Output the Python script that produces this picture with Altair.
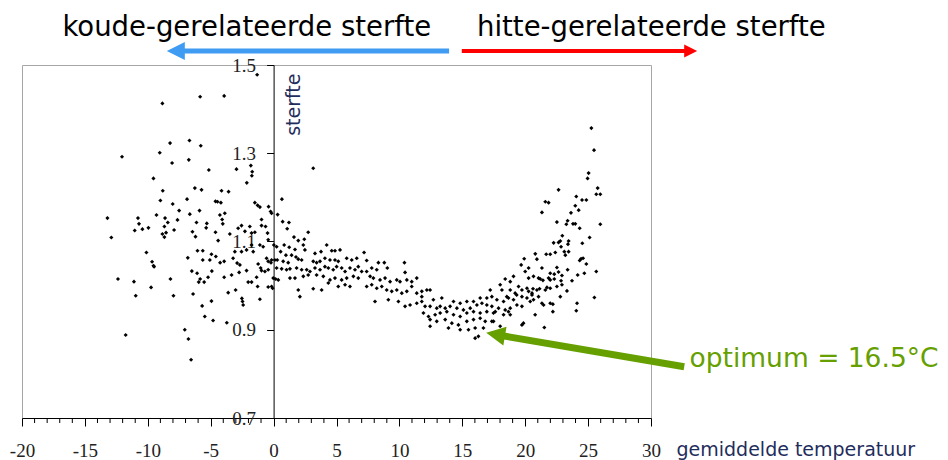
import altair as alt
import pandas as pd

# ---------------- data ----------------
# (temperature in degC, relative mortality "sterfte")
KOUD = [
    (-1.31, 1.478), (-8.84, 1.413), (-5.84, 1.428), (-3.93, 1.430), (-12.05, 1.292),
    (-8.23, 1.323), (-6.69, 1.329), (-5.79, 1.317), (-9.05, 1.301), (-8.07, 1.278),
    (-6.74, 1.285), (-5.15, 1.262), (-2.95, 1.264), (-1.81, 1.272), (-1.70, 1.258),
    (-1.73, 1.249), (-2.13, 1.233), (-9.55, 1.243), (-8.81, 1.215), (-6.26, 1.221),
    (-5.73, 1.217), (-4.14, 1.215), (-3.58, 1.213), (-9.00, 1.193), (-8.02, 1.185),
    (-6.88, 1.196), (-4.62, 1.191), (-4.46, 1.190), (-4.19, 1.188), (-1.49, 1.188),
    (-1.27, 1.182), (-1.09, 1.178), (-0.40, 1.179),
    (-13.21, 1.153), (-12.90, 1.109), (-12.37, 1.015), (-11.76, 0.888), (-11.10, 1.009),
    (-10.96, 0.977), (-10.78, 1.153), (-10.70, 1.140), (-11.04, 1.125), (-10.43, 1.128),
    (-9.95, 1.131), (-10.11, 1.075), (-9.66, 1.054), (-9.55, 1.045), (-9.50, 1.043),
    (-9.74, 0.996), (-9.31, 1.160), (-8.63, 1.153), (-8.41, 1.143), (-8.68, 1.134),
    (-8.84, 1.117), (-8.68, 1.110), (-8.55, 1.120), (-8.20, 1.015), (-7.96, 0.977),
    (-7.51, 1.170), (-7.64, 1.149), (-7.91, 1.126), (-6.66, 1.162), (-5.89, 1.170),
    (-6.13, 1.143), (-6.45, 1.122), (-6.21, 1.111), (-5.31, 1.141), (-5.36, 1.131),
    (-4.62, 1.121), (-4.41, 1.102), (-6.05, 1.079), (-5.63, 1.079), (-6.82, 1.063),
    (-5.63, 1.058), (-5.07, 1.058), (-4.94, 1.071), (-4.59, 1.066), (-4.25, 1.052),
    (-3.93, 1.055), (-6.50, 1.033), (-6.08, 1.028), (-4.91, 1.033), (-5.84, 1.015),
    (-5.95, 1.008), (-5.52, 1.008), (-5.21, 1.019), (-6.40, 0.981), (-5.68, 0.954),
    (-4.94, 0.965), (-5.47, 0.930), (-4.81, 0.921), (-7.06, 0.900), (-6.77, 0.879),
    (-6.56, 0.832), (-3.72, 0.916), (-3.61, 0.984), (-3.02, 0.990), (-2.52, 0.971),
    (-2.47, 0.964), (-2.42, 0.956), (-1.09, 0.969), (-3.93, 1.019), (-3.34, 1.024),
    (-2.74, 1.030), (-2.15, 1.034), (-2.02, 1.008), (-1.75, 1.008), (-1.27, 0.998),
    (-1.35, 1.019), (-0.43, 0.997), (-0.16, 0.998), (-0.96, 1.034), (-0.69, 1.032),
    (-0.43, 1.036), (-1.23, 1.049), (-1.03, 1.040), (-3.22, 1.062), (-2.90, 1.051),
    (-2.68, 1.047), (-3.08, 1.077), (-2.55, 1.077), (-2.15, 1.081), (-1.62, 1.077),
    (-1.75, 1.092), (-1.09, 1.092), (-0.83, 1.088), (-0.56, 1.062), (-0.43, 1.055),
    (-0.21, 1.052), (0.10, 1.058), (0.24, 1.040), (0.16, 1.015), (-3.48, 1.117),
    (-2.82, 1.130), (-2.55, 1.136), (-2.28, 1.123), (-1.89, 1.134), (-1.75, 1.119),
    (-1.49, 1.121), (-4.27, 1.160), (-3.88, 1.164), (-4.09, 1.150), (-4.04, 1.140),
    (-0.96, 1.150), (-0.96, 1.136), (-0.64, 1.134), (-0.16, 1.164), (-0.48, 1.119),
    (-0.43, 1.104), (0.32, 1.161),
]

MIDDEN = [
    (0.66, 1.196), (-0.24, 1.168), (0.72, 1.145), (1.22, 1.143), (1.08, 1.129),
    (2.75, 1.121), (1.62, 1.110), (1.96, 1.102), (2.44, 1.105), (0.02, 1.092),
    (0.24, 1.088), (0.84, 1.092), (1.24, 1.087), (1.70, 1.082), (2.49, 1.081),
    (2.36, 1.092), (4.22, 1.092), (4.62, 1.079), (4.88, 1.079), (5.28, 1.081),
    (3.29, 1.073), (3.77, 1.077), (0.56, 1.077), (0.98, 1.069), (1.43, 1.069),
    (1.78, 1.065), (1.96, 1.060), (2.23, 1.058), (-0.16, 1.058), (0.29, 1.058),
    (0.76, 1.055), (1.16, 1.052), (3.15, 1.055), (3.42, 1.052), (3.69, 1.055),
    (4.08, 1.062), (4.48, 1.058), (4.88, 1.058), (5.14, 1.055), (5.81, 1.062),
    (6.21, 1.058), (6.61, 1.062), (7.19, 1.075), (7.40, 1.057), (8.33, 1.052),
    (8.80, 1.052), (10.40, 1.052), (0.64, 1.038), (1.03, 1.036), (1.30, 1.038),
    (1.83, 1.040), (2.23, 1.036), (2.63, 1.036), (2.89, 1.032), (3.29, 1.040),
    (3.69, 1.036), (4.08, 1.043), (4.35, 1.040), (4.74, 1.036), (5.01, 1.043),
    (5.41, 1.040), (5.68, 1.032), (6.07, 1.040), (6.47, 1.036), (6.73, 1.043),
    (7.00, 1.032), (7.40, 1.032), (7.80, 1.040), (8.20, 1.036), (9.04, 1.040),
    (-0.03, 1.017), (0.37, 1.013), (1.30, 1.017), (1.70, 1.017), (2.36, 1.021),
    (2.75, 1.024), (3.42, 1.024), (3.95, 1.021), (4.48, 1.013), (4.88, 1.017),
    (5.41, 1.013), (5.81, 1.017), (6.34, 1.021), (6.73, 1.017), (7.67, 1.021),
    (7.93, 1.017), (8.46, 1.013), (8.86, 1.017), (9.26, 1.009), (9.79, 1.013),
    (10.05, 1.009), (10.45, 1.030), (10.59, 1.013), (10.98, 1.009), (11.38, 1.017),
    (-0.08, 0.994), (3.15, 0.993), (3.82, 0.990), (1.96, 0.990), (2.09, 0.975),
    (4.35, 1.006), (5.14, 0.998), (5.68, 1.002), (6.07, 0.998), (7.40, 0.998),
    (7.80, 1.002), (8.20, 0.994), (8.60, 0.998), (8.99, 0.990), (9.39, 0.987),
    (9.79, 0.990), (10.19, 0.983), (10.59, 0.987), (10.98, 0.998), (11.38, 0.983),
    (11.78, 0.975), (12.18, 0.990), (8.06, 0.964), (9.12, 0.968), (9.92, 0.964),
    (10.45, 0.953), (10.85, 0.956), (11.38, 0.960), (11.78, 0.964), (12.04, 0.953),
    (3.15, 1.266),
]

WARM = [
    (20.80, 1.072), (20.93, 1.060), (19.68, 1.047), (20.27, 1.040), (20.00, 1.032),
    (20.66, 1.021), (21.06, 1.017), (18.41, 1.015), (18.81, 1.009), (19.07, 1.021),
    (19.47, 0.998), (19.74, 0.990), (20.14, 0.994), (20.54, 0.983), (20.93, 0.990),
    (18.01, 1.002), (18.15, 0.990), (17.22, 0.990), (11.78, 0.987), (12.44, 0.990),
    (19.32, 0.979), (19.74, 0.975), (20.14, 0.972), (20.66, 0.968), (21.06, 0.975),
    (16.42, 0.972), (16.95, 0.972), (17.35, 0.975), (17.75, 0.968), (18.28, 0.964),
    (18.67, 0.972), (19.07, 0.968), (12.70, 0.968), (13.37, 0.972), (14.30, 0.964),
    (14.83, 0.960), (15.36, 0.964), (15.89, 0.964), (12.44, 0.953), (12.97, 0.949),
    (13.24, 0.953), (13.64, 0.949), (14.03, 0.953), (14.57, 0.949), (15.09, 0.945),
    (15.63, 0.949), (16.16, 0.956), (16.56, 0.960), (16.95, 0.956), (17.35, 0.953),
    (17.88, 0.949), (18.41, 0.945), (18.81, 0.949), (19.34, 0.956), (19.74, 0.953),
    (20.40, 0.964), (11.91, 0.938), (12.31, 0.930), (12.84, 0.934), (13.24, 0.938),
    (13.77, 0.941), (14.30, 0.934), (14.83, 0.930), (15.36, 0.938), (15.89, 0.941),
    (16.42, 0.938), (16.95, 0.941), (17.48, 0.938), (18.28, 0.934), (18.67, 0.941),
    (12.44, 0.923), (12.97, 0.919), (13.64, 0.923), (14.17, 0.915), (14.69, 0.911),
    (15.36, 0.919), (15.89, 0.923), (16.42, 0.926), (16.82, 0.919), (17.48, 0.919),
    (12.44, 0.908), (13.90, 0.904), (14.83, 0.900), (15.49, 0.900), (16.02, 0.904),
    (16.68, 0.904), (18.01, 0.908), (19.74, 0.911), (16.02, 0.881), (16.28, 0.885),
    (25.26, 1.357), (25.47, 1.307), (25.04, 1.255), (24.96, 1.243), (25.76, 1.221),
    (25.65, 1.207), (25.97, 1.207), (22.65, 1.217), (24.06, 1.202), (24.52, 1.194),
    (24.86, 1.194), (21.60, 1.190), (21.86, 1.188), (23.98, 1.181), (24.25, 1.171),
    (23.64, 1.165), (21.33, 1.166), (22.52, 1.144), (23.37, 1.147), (23.27, 1.139),
    (23.80, 1.140), (23.98, 1.140), (24.33, 1.130), (25.97, 1.139), (22.95, 1.113),
    (22.79, 1.101), (22.65, 1.098), (22.26, 1.097), (23.45, 1.101), (23.40, 1.094),
    (25.12, 1.109), (24.54, 1.096), (22.85, 1.088), (23.11, 1.077), (23.45, 1.077),
    (23.19, 1.069), (22.39, 1.075), (21.99, 1.071), (21.67, 1.071), (19.92, 1.061),
    (24.44, 1.061), (24.60, 1.062), (24.33, 1.057), (24.86, 1.049), (21.33, 1.040),
    (22.52, 1.041), (21.99, 1.028), (22.31, 1.026), (22.65, 1.031), (23.37, 1.036),
    (21.20, 1.015), (21.41, 1.012), (20.27, 1.017), (21.86, 1.017), (21.99, 1.013),
    (22.31, 1.015), (22.92, 1.023), (22.85, 1.011), (23.72, 1.011), (24.17, 1.024),
    (24.70, 1.028), (25.65, 1.032), (22.52, 0.998), (22.92, 1.002), (23.32, 0.988),
    (22.79, 0.975), (21.99, 0.994), (21.73, 0.996), (21.60, 0.990), (21.14, 0.993),
    (20.62, 0.993), (20.27, 0.987), (20.54, 0.979), (25.50, 0.973), (18.81, 0.990),
    (19.20, 0.983), (18.54, 0.975), (21.33, 0.960), (21.46, 0.956), (21.99, 0.960),
    (22.20, 0.958), (22.20, 0.941), (24.12, 0.960), (24.06, 0.943), (18.81, 0.934),
    (17.62, 0.941), (17.35, 0.919), (20.79, 0.934), (19.86, 0.915), (21.52, 0.905),
]

X_DOMAIN = [-20, 30]
Y_DOMAIN = [0.7, 1.5]
X_MAJOR_TICKS = [-20, -15, -10, -5, 0, 5, 10, 15, 20, 25, 30]
X_MINOR_TICKS = [v for v in range(-20, 31) if v % 5 != 0]
Y_TICKS = [0.7, 0.9, 1.1, 1.3, 1.5]

X_TITLE = "gemiddelde temperatuur"
Y_TITLE = "sterfte"
TOP_LABELS = ["koude-gerelateerde sterfte", "hitte-gerelateerde sterfte"]
TOP_LABEL_X = [-2.13, 30.03]
TOP_LABEL_Y = 1.566
OPTIMUM_LABEL = "optimum = 16.5°C"
OPTIMUM_LABEL_POS = (33.06, 0.815)

# arrows: shaft start/end and head tip (data units)
ARROW_Y = 1.532
COLD_ARROW = (13.95, -7.20, -8.49)
HEAT_ARROW = (14.96, 32.75, 33.67)
OPT_ARROW_TAIL = (32.64, 0.816)
OPT_ARROW_SHAFT_END = (17.85, 0.888)
OPT_ARROW_TIP = (16.90, 0.893)

BLUE = "#3f9cf2"
RED = "#ff0000"
GREEN = "#66a000"
NAVY = "#1f2d5c"

PLOT_W, PLOT_H = 629, 353

# ---------------- chart ----------------
points = pd.DataFrame(KOUD + MIDDEN + WARM, columns=["temp", "sterfte"])

xs = alt.Scale(domain=X_DOMAIN, nice=False, zero=False)
ys = alt.Scale(domain=Y_DOMAIN, nice=False, zero=False)

x_axis = alt.Axis(
    values=X_MAJOR_TICKS,
    format="d",
    labelExpr="replace(datum.label, '\u2212', '-')",
    tickSize=8,
    labelFlush=False,
    labelOverlap=False,
    labelFont="Liberation Serif",
    labelFontSize=19,
    labelColor="#222222",
    labelPadding=15,
    domainColor="black",
    tickColor="black",
    grid=False,
    title=X_TITLE,
    titleX=654,
    titleY=37,
    titleAlign="left",
    titleAnchor="start",
    titleBaseline="alphabetic",
    titleFont="DejaVu Sans",
    titleFontSize=19,
    titleFontWeight="normal",
    titleColor=NAVY,
)

y_axis = alt.Axis(
    values=Y_TICKS,
    format=".1f",
    orient="left",
    offset=-251.6,
    domainColor="black",
    tickColor="black",
    tickSize=7,
    labelFont="Liberation Serif",
    labelFontSize=19,
    labelColor="#222222",
    labelPadding=11,
    labelBaseline="middle",
    labelOverlap=False,
    grid=False,
    title=Y_TITLE,
    titleAngle=270,
    titleAlign="right",
    titleBaseline="alphabetic",
    titleX=26,
    titleY=8,
    titleFont="DejaVu Sans",
    titleFontSize=19,
    titleFontWeight="normal",
    titleColor=NAVY,
)

scatter = alt.Chart(points).mark_point(
    shape="diamond", filled=True, size=17, color="black", opacity=1
).encode(
    x=alt.X("temp:Q", scale=xs, axis=x_axis),
    y=alt.Y("sterfte:Q", scale=ys, axis=y_axis),
)

minor = pd.DataFrame({"temp": X_MINOR_TICKS})
minor_layer = alt.Chart(minor).mark_rule(color="black", strokeWidth=1).encode(
    x=alt.X("temp:Q", scale=xs),
    y=alt.value(PLOT_H),
    y2=alt.value(PLOT_H + 5),
)

shafts = pd.DataFrame({
    "temp": [COLD_ARROW[0], HEAT_ARROW[0], OPT_ARROW_TAIL[0]],
    "temp2": [COLD_ARROW[1], HEAT_ARROW[1], OPT_ARROW_SHAFT_END[0]],
    "sterfte": [ARROW_Y, ARROW_Y, OPT_ARROW_TAIL[1]],
    "sterfte2": [ARROW_Y, ARROW_Y, OPT_ARROW_SHAFT_END[1]],
    "c": [BLUE, RED, GREEN],
    "w": [5, 4, 7],
})
shaft_layer = alt.Chart(shafts).mark_rule(strokeCap="butt").encode(
    x=alt.X("temp:Q", scale=xs),
    x2="temp2:Q",
    y=alt.Y("sterfte:Q", scale=ys),
    y2="sterfte2:Q",
    color=alt.Color("c:N", scale=None),
    strokeWidth=alt.StrokeWidth("w:Q", scale=None),
)

heads = pd.DataFrame({
    "temp": [COLD_ARROW[2], HEAT_ARROW[2], OPT_ARROW_TIP[0]],
    "sterfte": [ARROW_Y, ARROW_Y, OPT_ARROW_TIP[1]],
    "c": [BLUE, RED, GREEN],
    "a": [0, 180, 9.7],
    "s": [1296, 676, 1444],
})
head_layer = alt.Chart(heads).mark_point(
    shape="M0,0 L1,-0.5 L1,0.5 Z", filled=True, opacity=1, strokeWidth=0
).encode(
    x=alt.X("temp:Q", scale=xs),
    y=alt.Y("sterfte:Q", scale=ys),
    color=alt.Color("c:N", scale=None),
    angle=alt.Angle("a:Q", scale=None),
    size=alt.Size("s:Q", scale=None),
)

top_text = pd.DataFrame({
    "temp": TOP_LABEL_X,
    "sterfte": [TOP_LABEL_Y, TOP_LABEL_Y],
    "label": TOP_LABELS,
})
top_layer = alt.Chart(top_text).mark_text(
    font="DejaVu Sans", fontSize=27.5, align="center", baseline="alphabetic", color="black"
).encode(
    x=alt.X("temp:Q", scale=xs),
    y=alt.Y("sterfte:Q", scale=ys),
    text="label:N",
)

opt_text = pd.DataFrame({
    "temp": [OPTIMUM_LABEL_POS[0]],
    "sterfte": [OPTIMUM_LABEL_POS[1]],
    "label": [OPTIMUM_LABEL],
})
opt_layer = alt.Chart(opt_text).mark_text(
    font="DejaVu Sans", fontSize=26.5, align="left", baseline="alphabetic", color=GREEN
).encode(
    x=alt.X("temp:Q", scale=xs),
    y=alt.Y("sterfte:Q", scale=ys),
    text="label:N",
)

chart = alt.layer(
    scatter, minor_layer, shaft_layer, head_layer, top_layer, opt_layer
).properties(
    width=PLOT_W,
    height=PLOT_H,
    autosize=alt.AutoSizeParams(type="none"),
    padding={"left": 14, "top": 57, "right": 289, "bottom": 42},
    background="white",
).configure_view(
    stroke="#a6a6a6", strokeWidth=1
)

chart.save("out.html", embed_options={"renderer": "svg", "actions": False})
